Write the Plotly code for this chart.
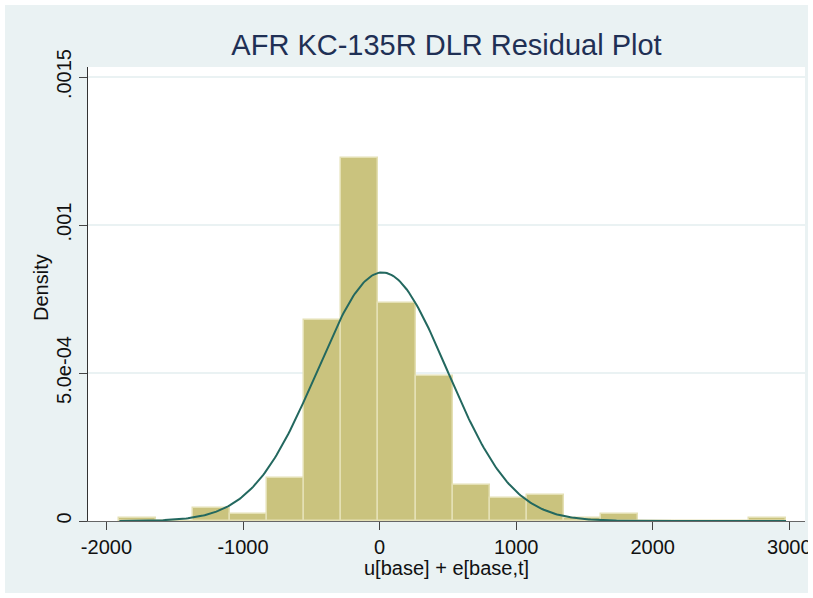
import numpy as np
import plotly.graph_objects as go

# histogram of residuals (bin edges and counts)
bin_edges = [-1905, -1634, -1363, -1092, -821, -550, -279, -8, 263, 534,
             805, 1076, 1347, 1618, 1889, 2160, 2431, 2702, 2976]
bin_counts = [1, 0, 4, 2, 13, 61, 110, 66, 44, 11, 7, 8, 1, 2, 0, 0, 0, 1]

# normal overlay parameters
resid_mean = 20
resid_sd = 475

title_text = "AFR KC-135R DLR Residual Plot"
x_title = "u[base] + e[base,t]"
y_title = "Density"
x_ticks = [-2000, -1000, 0, 1000, 2000, 3000]
x_ticklabels = ["-2000", "-1000", "0", "1000", "2000", "3000"]
y_ticks = [0, 0.0005, 0.001, 0.0015]
y_ticklabels = ["0", "5.0e-04", ".001", ".0015"]

edges = np.array(bin_edges, dtype=float)
counts = np.array(bin_counts, dtype=float)
widths = np.diff(edges)
centers = edges[:-1] + widths / 2
n_obs = counts.sum()
density = counts / (n_obs * widths)

xs = np.linspace(edges[0], edges[-1], 400)
ys = np.exp(-0.5 * ((xs - resid_mean) / resid_sd) ** 2) / (resid_sd * np.sqrt(2 * np.pi))

FONT = "Liberation Sans, Arial, sans-serif"
BG = "#EAF2F3"

fig = go.Figure()

fig.add_trace(go.Bar(
    x=centers, y=density, width=widths,
    marker=dict(color="#CAC37E", line=dict(color="#E4E0B4", width=1.5)),
    hoverinfo="skip", showlegend=False,
))

fig.add_trace(go.Scatter(
    x=xs, y=ys, mode="lines",
    line=dict(color="#23685F", width=2),
    hoverinfo="skip", showlegend=False,
))

W, H = 813, 598
L, R, T, B = 88, 8, 67, 77
pw, ph = W - L - R, H - T - B

# white outer frame round the graph region
fig.add_shape(
    type="rect", xref="paper", yref="paper", layer="above",
    x0=-L / pw, x1=(W - L) / pw, y0=-B / ph, y1=1 + T / ph,
    line=dict(color="white", width=10), fillcolor="rgba(0,0,0,0)",
)

# axis titles placed by hand
fig.add_annotation(text=x_title, xref="paper", yref="paper", x=0.5,
                   y=-(568 - (H - B)) / ph, xanchor="center", yanchor="middle",
                   showarrow=False, font=dict(size=20, color="#111111"))
fig.add_annotation(text=y_title, xref="paper", yref="paper", x=(41 - L) / pw,
                   y=((H - B) - 288) / ph, xanchor="center", yanchor="middle",
                   textangle=-90, showarrow=False, font=dict(size=20, color="#111111"))

fig.update_layout(
    width=W, height=H,
    margin=dict(l=L, r=R, t=T, b=B, autoexpand=False),
    paper_bgcolor=BG, plot_bgcolor="white",
    bargap=0,
    font=dict(family=FONT, color="#111111", size=20),
    title=dict(text=title_text, x=0.5, xref="paper", y=0.925, yanchor="middle",
               font=dict(family=FONT, size=29, color="#1F3055")),
    xaxis=dict(
        range=[-2135, 3115], tickvals=x_ticks, ticktext=x_ticklabels,
        ticks="outside", ticklen=8,
        tickcolor="#444", tickwidth=1.3, showgrid=False, zeroline=False,
        showline=True, linecolor="#666", linewidth=1.3, automargin=False,
        tickfont=dict(size=20),
    ),
    yaxis=dict(
        range=[0, 0.001534], tickvals=y_ticks, ticktext=y_ticklabels,
        tickangle=-90, ticks="outside", ticklen=8, tickcolor="#444", tickwidth=1.3,
        showgrid=True, gridcolor=BG, gridwidth=1.5, zeroline=False,
        showline=True, linecolor="#333", linewidth=1.3, automargin=False,
        tickfont=dict(size=20),
    ),
)

fig.write_html("out.html", config={"displayModeBar": False},
               post_script="document.body.style.margin='0';")
